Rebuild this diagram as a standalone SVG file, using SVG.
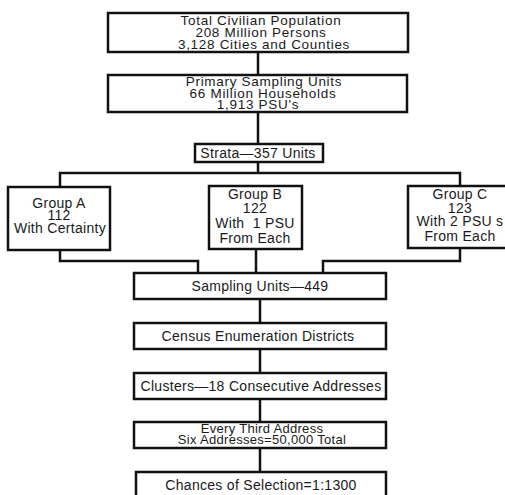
<svg xmlns="http://www.w3.org/2000/svg" width="505" height="495" viewBox="0 0 505 495">
<style>
.box{fill:#fff;stroke:#111;stroke-width:2.5}
.con{fill:none;stroke:#111;stroke-width:2.5}
text{font-family:"Liberation Sans",Arial,sans-serif;font-size:14px;fill:#1a1a1a;text-anchor:middle;letter-spacing:0.3px}
.w{letter-spacing:0.7px;font-size:13.5px}
.s{font-size:13px}
</style>
<rect width="505" height="495" fill="#fff"/>
<g id="connectors">
<path class="con" d="M258 52V75"/>
<path class="con" d="M258 112V144"/>
<path class="con" d="M258 162V173"/>
<path class="con" d="M60 187V173H460V187"/>
<path class="con" d="M256 249V273"/>
<path class="con" d="M60 250V261H198V273"/>
<path class="con" d="M460 248V261H323V273"/>
<path class="con" d="M260 299V323"/>
<path class="con" d="M260 349V373"/>
<path class="con" d="M260 399V422"/>
<path class="con" d="M260 448V472"/>
</g>
<g id="total">
<rect class="box" x="108" y="13" width="300" height="39"/>
<text class="w" x="261" y="25">Total Civilian Population</text>
<text class="w" x="261" y="37">208 Million Persons</text>
<text class="w" x="264" y="48.5">3,128 Cities and Counties</text>
</g>
<g id="psu">
<rect class="box" x="108" y="75" width="299" height="37"/>
<text class="w" x="264" y="86">Primary Sampling Units</text>
<text class="w" x="263" y="97.5">66 Million Households</text>
<text class="w" x="258" y="108.5">1,913 PSU's</text>
</g>
<g id="strata">
<rect class="box" x="195" y="144" width="128" height="18"/>
<text x="258" y="157.5">Strata—357 Units</text>
</g>
<g id="groupA">
<rect class="box" x="8" y="187" width="102" height="63"/>
<text x="59" y="208">Group A</text>
<text x="59" y="220">112</text>
<text x="60" y="233">With Certainty</text>
</g>
<g id="groupB">
<rect class="box" x="209" y="186" width="93" height="63"/>
<text x="255" y="199">Group B</text>
<text x="255" y="213">122</text>
<text x="255" y="228" xml:space="preserve">With  1 PSU</text>
<text x="255" y="243">From Each</text>
</g>
<g id="groupC">
<rect class="box" x="408" y="186" width="104" height="62"/>
<text x="460" y="199">Group C</text>
<text x="460" y="213">123</text>
<text x="460" y="226">With 2 PSU s</text>
<text x="460" y="241">From Each</text>
</g>
<g id="sampling">
<rect class="box" x="134" y="273" width="252" height="26"/>
<text x="260" y="291">Sampling Units—449</text>
</g>
<g id="census">
<rect class="box" x="134" y="323" width="252" height="26"/>
<text x="258" y="341">Census Enumeration Districts</text>
</g>
<g id="clusters">
<rect class="box" x="134" y="373" width="252" height="26"/>
<text x="261" y="391">Clusters—18 Consecutive Addresses</text>
</g>
<g id="third">
<rect class="box" x="134" y="422" width="252" height="26"/>
<text class="s" x="262" y="433">Every Third Address</text>
<text class="s" x="262" y="444">Six Addresses=50,000 Total</text>
</g>
<g id="chances">
<rect class="box" x="136" y="472" width="250" height="30"/>
<text x="261" y="490">Chances of Selection=1:1300</text>
</g>
</svg>
